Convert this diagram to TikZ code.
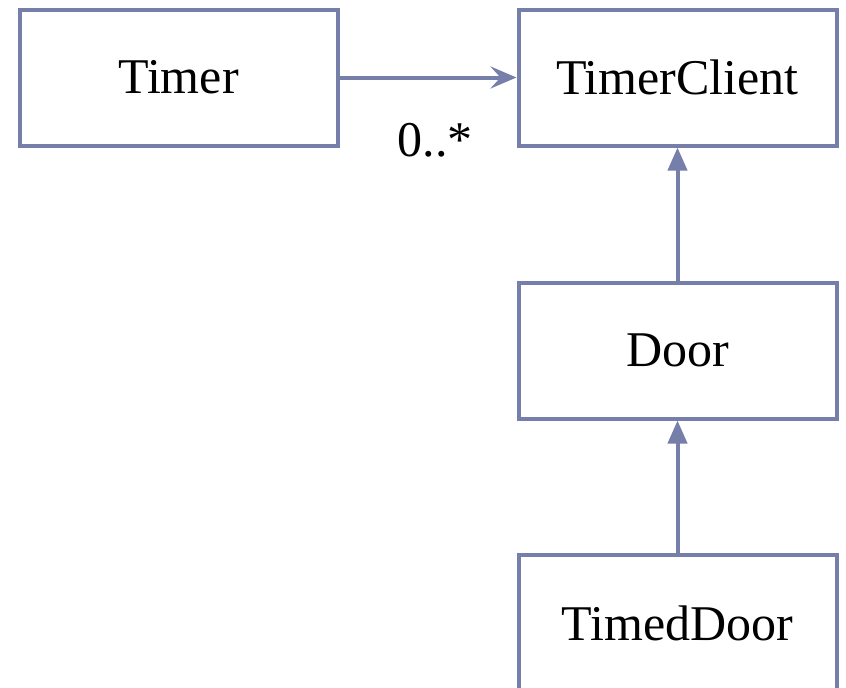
\documentclass[tikz,border=0pt]{standalone}
\usepackage{fontspec}
\setmainfont{Liberation Serif}
\usepackage{tikz}
\usetikzlibrary{arrows.meta}
\definecolor{umlblue}{RGB}{117,127,170}
\tikzstyle{classe}=[
        draw=umlblue,
        line width=2pt,
        rectangle,
        minimum width=159pt,
        minimum height=68pt,
        inner sep=0pt,
        font=\fontsize{25}{30}\selectfont
]
\tikzstyle{assoc}=[-{Stealth[length=13pt,width=11pt,inset=5pt]},draw=umlblue,line width=2pt]
\tikzstyle{herite}=[-{Triangle[length=11.5pt,width=9.5pt]},draw=umlblue,fill=umlblue,line width=2pt]
\begin{document}
\begin{tikzpicture}[x=0.5pt,y=-0.5pt]
\clip (0,0) rectangle (846,687);
\fill[white] (0,0) rectangle (846,687);
\node[classe] (timer) at (178.5,77.5) {Timer};
\node[classe] (client) at (677.5,77.5) {TimerClient};
\node[classe] (door) at (677.5,350.5) {Door};
\node[classe] (timeddoor) at (677.5,623) {TimedDoor};
\node[font=\fontsize{25}{30}\selectfont] (mult) at (435,140) {0..*};
%Placementdesflèches
\draw[assoc] (timer) -- (client);
\draw[herite] (door) -- (client);
\draw[herite] (timeddoor) -- (door);
\end{tikzpicture}
\end{document}
